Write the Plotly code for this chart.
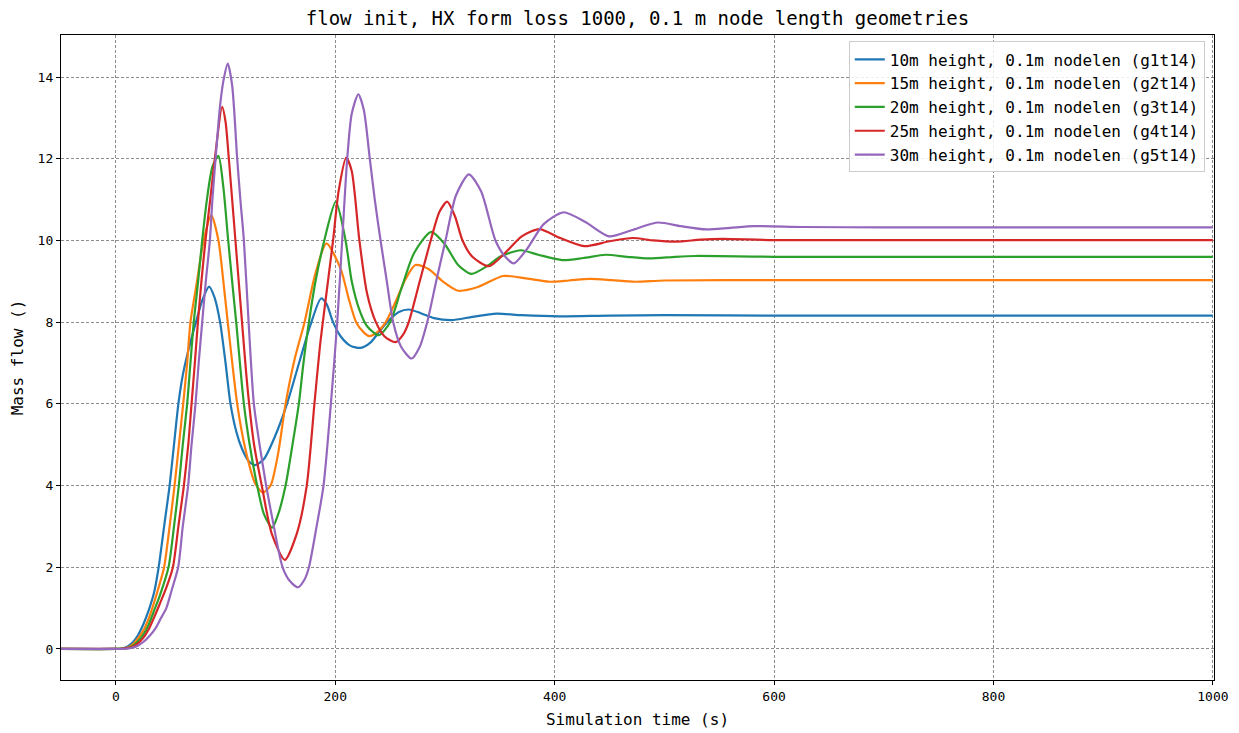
import plotly.graph_objects as go

# ---- data ----
labels = [
    "10m height, 0.1m nodelen (g1t14)",
    "15m height, 0.1m nodelen (g2t14)",
    "20m height, 0.1m nodelen (g3t14)",
    "25m height, 0.1m nodelen (g4t14)",
    "30m height, 0.1m nodelen (g5t14)",
]
colors = ["#1f77b4", "#ff7f0e", "#2ca02c", "#d62728", "#9467bd"]

t_g1 = [-50, 0, 5, 10, 15, 20, 25, 30, 35, 39, 44, 49, 53, 57, 61, 66, 73, 79, 85, 90, 95, 100, 104.5, 110,
        115, 121, 127, 135, 145, 156, 167, 177, 187, 192, 198, 205, 214, 223, 232, 241, 249, 258, 267, 278,
        290, 306, 325, 347, 370, 404, 450, 500, 600, 800, 1000]
m_g1 = [0, 0, 0.01, 0.05, 0.15, 0.33, 0.6, 0.95, 1.4, 2.0, 3.0, 4.0, 5.0, 6.0, 6.7, 7.3, 8.0, 8.55, 8.87, 8.6,
        8.0, 7.0, 6.0, 5.3, 4.9, 4.6, 4.5, 4.65, 5.2, 6.0, 7.0, 7.9, 8.58, 8.45, 8.0, 7.65, 7.42, 7.37, 7.5,
        7.8, 8.05, 8.25, 8.31, 8.22, 8.1, 8.05, 8.13, 8.21, 8.17, 8.14, 8.16, 8.17, 8.16, 8.16, 8.16]

t_g2 = [-50, 0, 5, 10, 15, 20, 25, 30, 35, 40, 44, 49, 53.5, 57.5, 61.4, 65, 68, 74, 80, 87, 93.5, 98, 102,
        110.6, 118, 127, 134, 141, 148, 154.7, 163, 172, 182, 192, 205, 212, 219, 226, 231, 238, 246, 255,
        264, 273, 285, 298, 312, 330, 353, 374, 395, 413, 432, 452, 473, 500, 600, 800, 1000]
m_g2 = [0, 0, 0.01, 0.03, 0.1, 0.25, 0.45, 0.75, 1.15, 1.6, 2.0, 3.0, 4.0, 5.0, 6.0, 7.0, 8.0, 9.0, 10.0,
        10.62, 10.0, 9.0, 8.0, 6.0, 4.9, 4.05, 3.83, 4.0, 4.8, 6.0, 7.1, 8.0, 9.2, 9.93, 9.3, 8.6, 8.0,
        7.75, 7.66, 7.75, 8.0, 8.5, 9.05, 9.4, 9.3, 9.0, 8.77, 8.86, 9.13, 9.07, 8.99, 9.02, 9.06, 9.03,
        8.99, 9.02, 9.03, 9.03, 9.03]

t_g3 = [-50, 0, 5, 10, 15, 20, 25, 30, 35, 40, 48, 53, 57.4, 61, 65, 68, 71, 75, 78.7, 83, 88, 93.5, 98,
        102.4, 106, 109.7, 116.7, 122, 128.8, 135, 142.5, 148, 154.7, 161, 166.8, 171, 176, 182, 190,
        200.5, 209.4, 215, 222, 229, 239.7, 250, 260, 272, 287.5, 300, 312, 324, 340, 350, 369, 385, 407,
        426, 446.4, 466, 486, 510, 528, 600, 800, 1000]
m_g3 = [0, 0, 0.01, 0.02, 0.07, 0.18, 0.35, 0.6, 0.95, 1.3, 2.0, 3.0, 4.0, 5.0, 6.0, 7.0, 8.0, 9.0, 10.0,
        11.0, 11.8, 12.07, 11.3, 10.0, 9.0, 8.0, 6.0, 5.0, 4.0, 3.3, 2.97, 3.3, 4.0, 5.0, 6.0, 7.0, 8.0,
        9.0, 10.0, 10.95, 10.0, 9.0, 8.3, 7.9, 7.68, 8.0, 8.8, 9.7, 10.21, 9.9, 9.4, 9.18, 9.4, 9.6, 9.76,
        9.65, 9.52, 9.57, 9.65, 9.6, 9.56, 9.6, 9.62, 9.6, 9.6, 9.6]

t_g4 = [-50, 0, 5, 10, 15, 20, 25, 30, 35, 40, 46, 52, 57, 62, 66, 69, 72, 74.8, 78, 81.7, 86, 90.2, 96.9,
        100, 103, 109, 115, 120, 126, 133, 142, 154, 165, 174, 181, 186, 191, 198, 203, 210, 215, 222,
        229, 237, 245, 255, 262, 267, 277, 287, 295, 302, 309, 316, 325, 340, 355, 370, 386, 405, 427,
        450, 471, 490, 511, 533, 553, 600, 800, 1000]
m_g4 = [0, 0, 0.0, 0.02, 0.05, 0.13, 0.27, 0.48, 0.78, 1.1, 1.5, 2.0, 3.0, 4.0, 5.0, 6.0, 7.0, 8.0, 9.0,
        10.0, 11.0, 12.0, 13.27, 12.9, 12.0, 10.0, 8.0, 6.4, 5.0, 4.0, 2.83, 2.18, 2.83, 4.0, 6.0, 7.4,
        8.5, 10.0, 11.2, 12.03, 11.7, 10.0, 8.7, 8.0, 7.65, 7.51, 7.7, 8.0, 9.0, 10.0, 10.7, 10.95, 10.6,
        10.0, 9.6, 9.37, 9.7, 10.1, 10.28, 10.06, 9.86, 9.98, 10.06, 10.0, 9.97, 10.02, 10.04, 10.01,
        10.01, 10.01]

t_g5 = [-50, 0, 5, 10, 15, 20, 25, 30, 36, 41, 46, 51, 56.8, 61, 65.9, 69, 72.6, 75.5, 78.7, 82, 85.7, 88,
        90.9, 95, 98, 102, 106, 110.6, 113.5, 116.7, 121, 125.8, 131, 137, 144, 152, 159, 166, 172, 176,
        183, 189.3, 196, 201.8, 206.3, 210.9, 215, 221, 226, 231.5, 236, 241.3, 247, 252.8, 260, 269.5,
        277, 283.8, 292, 300.5, 310, 321.8, 333, 346, 355, 362.8, 375, 390, 408, 428, 449.5, 470, 493.6,
        515, 538, 560, 582, 626, 700, 800, 1000]
m_g5 = [0, 0, 0.0, 0.01, 0.03, 0.08, 0.17, 0.3, 0.5, 0.75, 1.0, 1.45, 2.0, 3.0, 4.0, 5.0, 6.0, 7.0, 8.0,
        9.0, 10.0, 11.0, 12.0, 13.3, 13.9, 14.33, 13.8, 12.0, 11.0, 10.0, 8.0, 6.0, 5.0, 4.0, 3.0, 2.0,
        1.65, 1.51, 1.7, 2.0, 3.0, 4.0, 6.0, 8.0, 10.0, 12.0, 13.1, 13.58, 13.2, 12.0, 11.0, 10.0, 9.0,
        8.0, 7.4, 7.11, 7.4, 8.0, 9.0, 10.0, 11.1, 11.62, 11.2, 10.0, 9.6, 9.44, 9.8, 10.4, 10.69, 10.45,
        10.1, 10.25, 10.44, 10.35, 10.27, 10.31, 10.35, 10.33, 10.32, 10.32, 10.32]

series_t = [t_g1, t_g2, t_g3, t_g4, t_g5]
series_m = [m_g1, m_g2, m_g3, m_g4, m_g5]

x_ticks = [0, 200, 400, 600, 800, 1000]
y_ticks = [0, 2, 4, 6, 8, 10, 12, 14]

FONT = "DejaVu Sans Mono"
W, H = 1231, 725  # page body adds an 8 px offset

fig = go.Figure()
for t, m, lab, col in zip(series_t, series_m, labels, colors):
    fig.add_trace(go.Scatter(
        x=t, y=m, mode="lines", name=lab,
        line=dict(color=col, width=2.2, shape="spline", smoothing=0.7),
    ))

axis_common = dict(
    showline=True, linecolor="black", linewidth=1.3, mirror=True,
    ticks="outside", ticklen=4, tickwidth=1.1, tickcolor="black",
    showgrid=True, gridcolor="#8c8c8c", gridwidth=0.7, griddash="3px,2px",
    zeroline=False, automargin=False,
    tickfont=dict(family=FONT, size=13, color="black"),
)

fig.update_layout(
    width=W, height=H,
    paper_bgcolor="white", plot_bgcolor="white",
    margin=dict(l=53, r=25, t=27, b=53, autoexpand=False),
    font=dict(family=FONT, color="black"),
    title=dict(
        text="flow init, HX form loss 1000, 0.1 m node length geometries",
        x=0.5, xanchor="center", xref="paper",
        y=1 - 10 / H, yref="container", yanchor="middle",
        font=dict(family=FONT, size=19, color="black"),
    ),
    xaxis=dict(
        range=[-50, 1001], tickvals=x_ticks,
        title=dict(text="Simulation time (s)", font=dict(family=FONT, size=16), standoff=11),
        **axis_common,
    ),
    yaxis=dict(
        range=[-0.76, 15.03], tickvals=y_ticks,
        title=dict(text="Mass flow ()", font=dict(family=FONT, size=16), standoff=12),
        **axis_common,
    ),
    legend=dict(
        x=0.992, y=0.99, xanchor="right", yanchor="top",
        bgcolor="rgba(255,255,255,0.85)", bordercolor="#cccccc", borderwidth=1,
        font=dict(family=FONT, size=16, color="black"),
        tracegroupgap=0,
    ),
    showlegend=True,
)

fig.write_html("out.html")
